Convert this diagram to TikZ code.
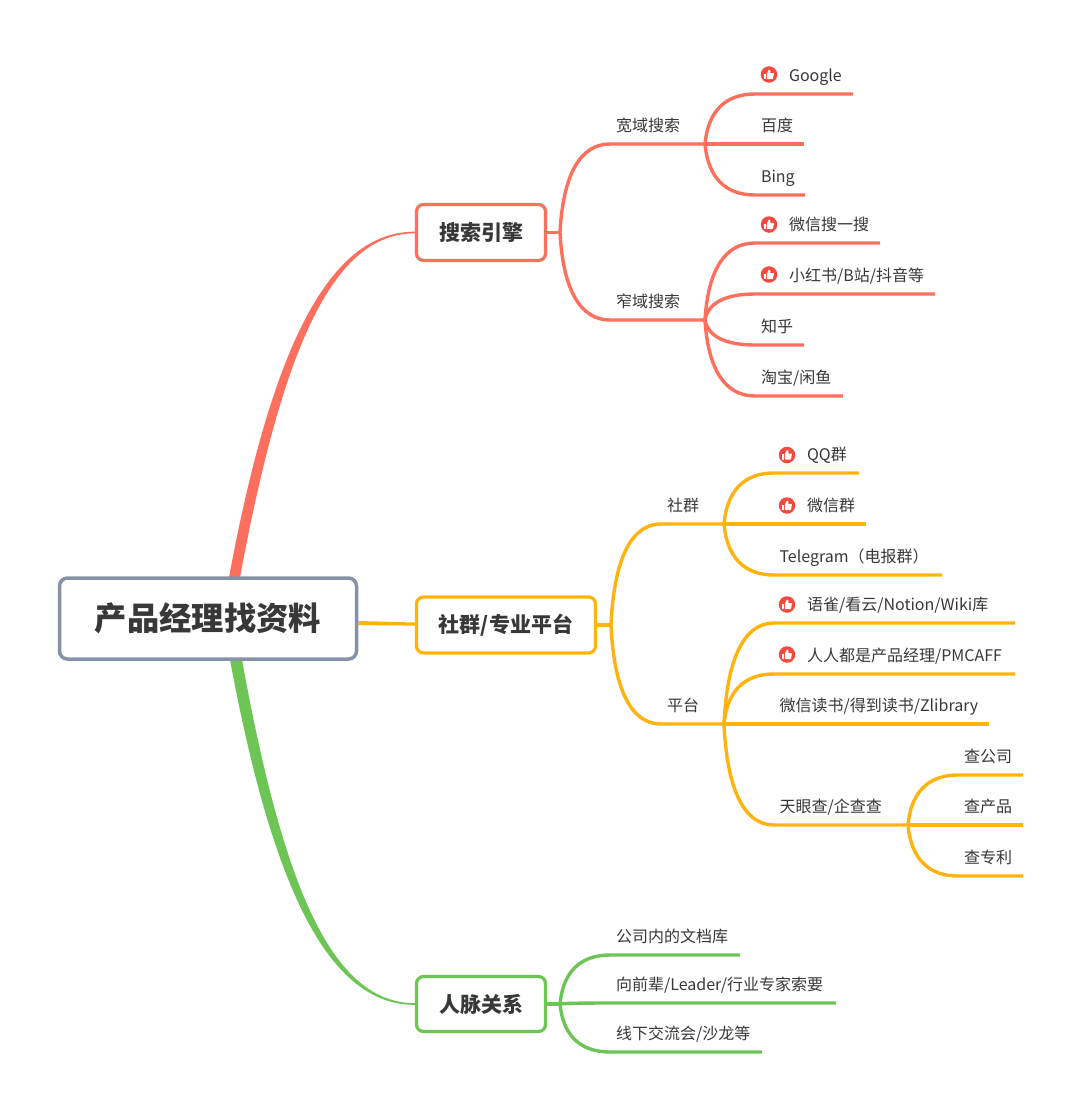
\documentclass[tikz,border=0pt]{standalone}
\usepackage{fontspec}
\setmainfont{Noto Sans CJK SC}
\usetikzlibrary{calc,backgrounds}
\definecolor{cred}{HTML}{FF6F5E}
\definecolor{cyel}{HTML}{FFB30F}
\definecolor{cgrn}{HTML}{6DC555}
\definecolor{cgry}{HTML}{8492A8}
\definecolor{cicn}{HTML}{F4493F}
\definecolor{ctxt}{HTML}{383838}
\tikzset{
  x=1pt,y=-1pt,
  leafbox/.style={inner sep=0pt,outer sep=0pt,text=ctxt,font=\fontsize{16}{16}\selectfont,align=left,minimum height=38pt},
  topicbox/.style={draw,fill=white,line width=3.2pt,rounded corners=7pt,text=ctxt,inner sep=0pt,font=\fontsize{21}{21}\bfseries\selectfont},
  rootbox/.style={draw=cgry,fill=white,line width=3.5pt,rounded corners=8pt,text=ctxt,inner sep=0pt,font=\fontsize{32.3}{32.3}\bfseries\selectfont},
  iconbadge/.style={circle,fill=cicn,minimum size=16.5pt,inner sep=0pt},
  wire/.style={line width=3.4pt,line cap=butt},
}
% name, hub, x start, line y, x end, colour, text offset, text
\newcommand{\leafnode}[8]{%
  \pgfmathsetmacro{\lw}{#5-#3}\pgfmathsetmacro{\lcx}{(#5+#3)/2}\pgfmathsetmacro{\lcy}{#4-19}%
  \node[leafbox,minimum width=\lw pt,text width=\lw pt-#7 pt,text depth=0pt,xshift=#7 pt/2] (#1t) at (\lcx,\lcy) {#8};
  \node[inner sep=0pt,outer sep=0pt,minimum width=\lw pt,minimum height=38pt] (#1) at (\lcx,\lcy) {};
  \coordinate (#1ca) at ($(#2)!0.65!(#2 |- #1.south west)$);
  \coordinate (#1cb) at ($(#2)!0.06!(#1.south west)$);
  \coordinate (#1cc) at ($(#1.south west)!0.6!(#1.south west -| #2)$);
  \begin{scope}[on background layer]
  \draw[wire,#6] (#2) .. controls (#1cb |- #1ca) and (#1cc) .. (#1.south west) -- (#1.south east);
  \end{scope}
}
% name, cx, cy
\newcommand{\thumbicon}[3]{%
  \node[iconbadge] (#1) at (#2,#3) {};
  \fill[white,shift={(#1.center)}] (-5.0,-0.8) rectangle (-3.0,4.6);
  \fill[white,shift={(#1.center)},rounded corners=0.6pt] (-2.2,-0.8) -- (-0.1,-4.9) -- (1.4,-4.6) -- (1.2,-1.4) -- (5.0,-1.4) -- (3.9,4.6) -- (-2.2,4.6) -- cycle;
}
\begin{document}
\begin{tikzpicture}
\useasboundingbox (0,0) rectangle (1080,1111);
\begin{scope}[on background layer]
\fill[white] (0,0) rectangle (1080,1111);
\end{scope}
% root and topics
\node[rootbox,minimum width=297pt,minimum height=81pt] (root) at (208,618.5) {产品经理找资料};
\node[topicbox,draw=cred,minimum width=129pt,minimum height=56pt] (t1) at (481,232.5) {搜索引擎};
\node[topicbox,draw=cyel,minimum width=179pt,minimum height=56pt] (t2) at (506,625) {社群/专业平台};
\node[topicbox,draw=cgrn,minimum width=129pt,minimum height=55pt] (t3) at (481,1004) {人脉关系};
% hubs
\coordinate (h1) at (560,232.5);
\coordinate (h2) at (611,625);
\coordinate (h3) at (560,1004);
\coordinate (h11) at (705,144);
\coordinate (h12) at (705,320);
\coordinate (h21) at (724,524);
\coordinate (h22) at (724,724);
\coordinate (h224) at (908,825);
\coordinate (rn) at ($(root.north west)!0.587!(root.north east)$);
\coordinate (rs) at ($(root.south west)!0.592!(root.south east)$);
% main branches
\begin{scope}[on background layer]
\fill[cred] ($(rn)+(-5.5,3)$) .. controls (271,350) and (328,231.2) .. ($(t1.west)+(0,-0.8)$) -- ($(t1.west)+(0,0.8)$) .. controls (332,233.5) and (282,350) .. ($(rn)+(5.5,3)$) -- cycle;
\fill[cgrn] ($(rs)+(-6,-3)$) .. controls (272,887) and (328,1005.2) .. ($(t3.west)+(0,0.8)$) -- ($(t3.west)+(0,-0.8)$) .. controls (332,1003) and (283,887) .. ($(rs)+(6,-3)$) -- cycle;
\fill[cyel] ($(root.east)+(0,2.5)$) .. controls (380,621.5) and (395,622) .. ($(t2.west)+(0,-2.5)$) -- ($(t2.west)+(0,0.7)$) .. controls (395,625.2) and (380,625.5) .. ($(root.east)+(0,6.5)$) -- cycle;
\draw[wire,cred] (t1.east) -- (h1);
\draw[wire,cyel] (t2.east) -- (h2);
\draw[wire,cgrn] (t3.east) -- (h3);
\end{scope}
% level 2
\leafnode{a}{h1}{610}{144}{705}{cred}{6}{宽域搜索}
\leafnode{b}{h1}{610}{320}{705}{cred}{6}{窄域搜索}
\leafnode{c}{h2}{661}{524}{724}{cyel}{6}{社群}
\leafnode{d}{h2}{661}{724}{724}{cyel}{6}{平台}
% red leaves
\leafnode{a1}{h11}{755}{94}{853}{cred}{34}{Google}
\leafnode{a2}{h11}{755}{144}{804}{cred}{6}{百度}
\leafnode{a3}{h11}{755}{195}{805}{cred}{6}{Bing}
\leafnode{b1}{h12}{755}{243}{880}{cred}{34}{微信搜一搜}
\leafnode{b2}{h12}{755}{294}{935}{cred}{34}{小红书/B站/抖音等}
\leafnode{b3}{h12}{755}{345}{804}{cred}{6}{知乎}
\leafnode{b4}{h12}{755}{396}{843}{cred}{6}{淘宝/闲鱼}
% yellow leaves
\leafnode{c1}{h21}{774}{473}{859}{cyel}{33}{QQ群}
\leafnode{c2}{h21}{774}{524}{866}{cyel}{33}{微信群}
\leafnode{c3}{h21}{774}{575}{942}{cyel}{5.5}{Telegram（电报群）}
\leafnode{d1}{h22}{774}{623}{1015}{cyel}{33}{语雀/看云/Notion/Wiki库}
\leafnode{d2}{h22}{774}{674}{1015}{cyel}{33}{人人都是产品经理/PMCAFF}
\leafnode{d3}{h22}{774}{724}{989}{cyel}{5.5}{微信读书/得到读书/Zlibrary}
\leafnode{d4}{h22}{774}{825}{908}{cyel}{5.5}{天眼查/企查查}
\leafnode{e1}{h224}{958}{775}{1023}{cyel}{6}{查公司}
\leafnode{e2}{h224}{958}{825}{1023}{cyel}{6}{查产品}
\leafnode{e3}{h224}{958}{876}{1023}{cyel}{6}{查专利}
% green leaves
\leafnode{f1}{h3}{610}{955}{740}{cgrn}{6}{公司内的文档库}
\leafnode{f2}{h3}{610}{1003}{836}{cgrn}{6}{向前辈/Leader/行业专家索要}
\leafnode{f3}{h3}{610}{1052}{762}{cgrn}{6}{线下交流会/沙龙等}
% icons
\thumbicon{i1}{769}{74.5}
\thumbicon{i2}{769}{224.5}
\thumbicon{i3}{769}{274.5}
\thumbicon{i4}{787}{455}
\thumbicon{i5}{787}{505.5}
\thumbicon{i6}{787}{604.5}
\thumbicon{i7}{787}{654.5}
\end{tikzpicture}
\end{document}
